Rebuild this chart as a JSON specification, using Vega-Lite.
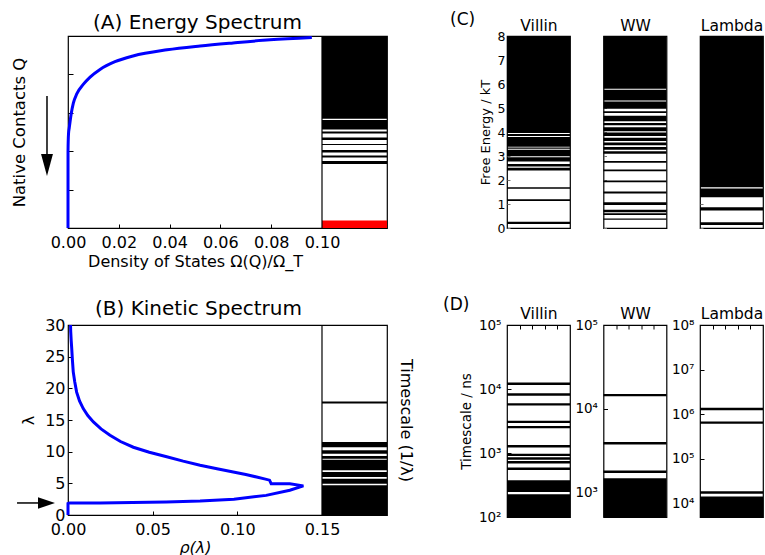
{
 "$schema": "https://vega.github.io/schema/vega-lite/v6.json",
 "padding": {"left": 10, "top": 10, "right": 0, "bottom": 0},
 "background": "white",
 "config": {
   "font": "DejaVu Sans",
   "view": {"stroke": "#000", "strokeWidth": 1.2},
   "axis": {"grid": false, "domain": false, "labelColor": "#000", "titleColor": "#000", "titleFontWeight": "normal", "tickColor": "#000", "labelFlush": false, "labelOverlap": false, "labelFont": "DejaVu Sans", "titleFont": "DejaVu Sans"},
   "title": {"fontWeight": "normal", "color": "#000", "font": "DejaVu Sans"}
 },
 "datasets": {
   "curveA": [{"i":0,"d":0,"q":0},{"i":1,"d":0.00001,"q":2.0},{"i":2,"d":0.0002,"q":2.45},{"i":3,"d":0.0005,"q":2.61},{"i":4,"d":0.0012,"q":2.95},{"i":5,"d":0.0021,"q":3.25},{"i":6,"d":0.0035,"q":3.5},{"i":7,"d":0.006,"q":3.74},{"i":8,"d":0.0087,"q":3.93},{"i":9,"d":0.0126,"q":4.13},{"i":10,"d":0.0185,"q":4.33},{"i":11,"d":0.0256,"q":4.48},{"i":12,"d":0.039,"q":4.64},{"i":13,"d":0.052,"q":4.74},{"i":14,"d":0.065,"q":4.82},{"i":15,"d":0.0795,"q":4.9},{"i":16,"d":0.096,"q":4.96}],
   "stripA": [{"lo":2.846,"hi":5,"kind":"level"},{"lo":2.565,"hi":2.8125,"kind":"level"},{"lo":2.461,"hi":2.513,"kind":"level"},{"lo":2.292,"hi":2.357,"kind":"level"},{"lo":2.161,"hi":2.1875,"kind":"level"},{"lo":1.966,"hi":2.031,"kind":"level"},{"lo":1.836,"hi":1.888,"kind":"level"},{"lo":1.667,"hi":1.745,"kind":"level"},{"lo":0,"hi":0.195,"kind":"ground"}],
   "arrowA": [{"x":-0.00827,"y":3.4375,"y2":1.875,"hy":1.64}],
   "curveB": [{"i":0,"rho":0.0015,"lam":30},{"i":1,"rho":0.0016,"lam":29},{"i":2,"rho":0.0019,"lam":27.5},{"i":3,"rho":0.0022,"lam":26.3},{"i":4,"rho":0.0026,"lam":24.5},{"i":5,"rho":0.0031,"lam":22.6},{"i":6,"rho":0.004,"lam":21},{"i":7,"rho":0.0051,"lam":19.4},{"i":8,"rho":0.0068,"lam":18},{"i":9,"rho":0.009,"lam":16.8},{"i":10,"rho":0.0117,"lam":15.7},{"i":11,"rho":0.015,"lam":14.7},{"i":12,"rho":0.0195,"lam":13.6},{"i":13,"rho":0.0248,"lam":12.6},{"i":14,"rho":0.031,"lam":11.6},{"i":15,"rho":0.0386,"lam":10.7},{"i":16,"rho":0.048,"lam":9.9},{"i":17,"rho":0.0583,"lam":9.2},{"i":18,"rho":0.068,"lam":8.5},{"i":19,"rho":0.078,"lam":7.85},{"i":20,"rho":0.088,"lam":7.3},{"i":21,"rho":0.0976,"lam":6.8},{"i":22,"rho":0.105,"lam":6.4},{"i":23,"rho":0.1114,"lam":6.0},{"i":24,"rho":0.116,"lam":5.7},{"i":25,"rho":0.119,"lam":5.5},{"i":26,"rho":0.12,"lam":4.95},{"i":27,"rho":0.131,"lam":4.95},{"i":28,"rho":0.139,"lam":4.6},{"i":29,"rho":0.131,"lam":3.9},{"i":30,"rho":0.117,"lam":3.1},{"i":31,"rho":0.098,"lam":2.5},{"i":32,"rho":0.078,"lam":2.2},{"i":33,"rho":0.058,"lam":2.05},{"i":34,"rho":0.038,"lam":1.97},{"i":35,"rho":0.019,"lam":1.9},{"i":36,"rho":0.001,"lam":1.9},{"i":37,"rho":0.0,"lam":1.8},{"i":38,"rho":0.0,"lam":0.0}],
   "stripB": [{"lo":17.61,"hi":17.92},{"lo":10.69,"hi":11.53},{"lo":9.68,"hi":10.22},{"lo":8.87,"hi":9.32},{"lo":7.06,"hi":8.72},{"lo":6.0,"hi":6.79},{"lo":4.94,"hi":5.73},{"lo":0,"hi":4.69}],
   "arrowB": [{"x":-0.0301,"x2":-0.01654,"y":1.9,"hx":-0.0127}],
   "cVillin": [{"lo":3.96,"hi":8},{"lo":3.83,"hi":3.92},{"lo":3.39,"hi":3.79},{"lo":3.30,"hi":3.35},{"lo":2.99,"hi":3.26},{"lo":2.77,"hi":2.95},{"lo":2.56,"hi":2.67},{"lo":2.40,"hi":2.51},{"lo":1.64,"hi":1.70},{"lo":1.12,"hi":1.20},{"lo":0.17,"hi":0.26}],
   "cWW": [{"lo":5.80,"hi":8},{"lo":5.31,"hi":5.76},{"lo":4.97,"hi":5.27},{"lo":4.79,"hi":4.86},{"lo":4.45,"hi":4.68},{"lo":4.28,"hi":4.38},{"lo":4.03,"hi":4.20},{"lo":3.83,"hi":3.98},{"lo":3.63,"hi":3.76},{"lo":3.45,"hi":3.56},{"lo":3.26,"hi":3.38},{"lo":3.09,"hi":3.20},{"lo":2.72,"hi":2.79},{"lo":2.36,"hi":2.44},{"lo":1.91,"hi":1.98},{"lo":1.44,"hi":1.52},{"lo":0.96,"hi":1.07},{"lo":0.66,"hi":0.76},{"lo":0.54,"hi":0.61},{"lo":0.34,"hi":0.40}],
   "cLambda": [{"lo":1.70,"hi":8},{"lo":1.28,"hi":1.65},{"lo":0.73,"hi":0.86},{"lo":0.13,"hi":0.24}],
   "dVillin": [{"lo":11540,"hi":12580},{"lo":7870,"hi":8580},{"lo":5500,"hi":5990},{"lo":2940,"hi":3205},{"lo":2430,"hi":2645},{"lo":1223,"hi":1333},{"lo":894,"hi":974},{"lo":785,"hi":856},{"lo":688,"hi":750},{"lo":544,"hi":593},{"lo":246,"hi":375},{"lo":100,"hi":226}],
   "dWW": [{"lo":14030,"hi":14990},{"lo":3725,"hi":3980},{"lo":1703,"hi":1819},{"lo":506,"hi":1470}],
   "dLambda": [{"lo":1231000,"hi":1394000},{"lo":611000,"hi":692000},{"lo":16730,"hi":18940},{"lo":5012,"hi":14500}]
 },
 "columns": 5,
 "spacing": {"row": 97, "column": 33.5},
 "bounds": "flush",
 "concat": [
  {
   "width": 319, "height": 192,
   "title": {"text": "(A) Energy Spectrum", "fontSize": 20, "anchor": "start", "frame": "group", "dx": 25, "offset": -1},
   "resolve": {"axis": {"x": "independent", "y": "independent"}},
   "layer": [
    {"data": {"name": "stripA"}, "mark": {"type": "rect"},
     "encoding": {
       "x": {"datum": 0.1, "type": "quantitative", "axis": null},
       "x2": {"datum": 0.12559},
       "y": {"field": "lo", "type": "quantitative", "axis": null},
       "y2": {"field": "hi"},
       "color": {"field": "kind", "type": "nominal", "scale": {"domain": ["level", "ground"], "range": ["#000000", "#ff0000"]}, "legend": null}}},
    {"data": {"values": [{}]}, "mark": {"type": "rule", "color": "#000", "strokeWidth": 1.2},
     "encoding": {"x": {"datum": 0.1, "type": "quantitative", "axis": null}}},
    {"data": {"name": "curveA"}, "mark": {"type": "line", "color": "#0000ff", "strokeWidth": 3, "interpolate": "monotone"},
     "encoding": {
       "x": {"field": "d", "type": "quantitative", "scale": {"domain": [0, 0.12559], "nice": false, "zero": false},
             "axis": {"values": [0, 0.02, 0.04, 0.06, 0.08, 0.1], "format": ".2f", "labelFontSize": 16, "tickSize": -4, "labelPadding": 10, "title": "Density of States Ω(Q)/Ω_T", "titleFontSize": 16, "titleX": 127, "titlePadding": 3}},
       "y": {"field": "q", "type": "quantitative", "scale": {"domain": [0, 5], "nice": false, "zero": false},
             "axis": {"values": [1, 2, 3, 4], "labels": false, "tickSize": -5, "title": "Native Contacts Q", "titleFontSize": 16.5, "titlePadding": 40}},
       "order": {"field": "i", "type": "quantitative"}}},
    {"data": {"name": "arrowA"}, "mark": {"type": "rule", "color": "#000", "strokeWidth": 1.5},
     "encoding": {"x": {"field": "x", "type": "quantitative", "axis": null}, "y": {"field": "y", "type": "quantitative", "axis": null}, "y2": {"field": "y2"}}},
    {"data": {"name": "arrowA"}, "mark": {"type": "point", "shape": "M-0.54,-1L0.54,-1L0,1Z", "size": 484, "filled": true, "color": "#000", "opacity": 1},
     "encoding": {"x": {"field": "x", "type": "quantitative", "axis": null}, "y": {"field": "hy", "type": "quantitative", "axis": null}}}
   ]
  },
  {"data": {"values": []}, "mark": "point", "width": 53, "height": 192, "view": {"stroke": null}},
  {
   "width": 63, "height": 192,
   "title": {"text": "(C)", "fontSize": 17, "anchor": "start", "frame": "group", "dx": -57, "dy": 15},
   "data": {"name": "cVillin"},
   "mark": {"type": "rect", "color": "#000"},
   "encoding": {
     "x": {"datum": 0, "type": "quantitative", "scale": {"domain": [0, 1], "nice": false}, "axis": {"orient": "top", "title": "Villin", "titleFontSize": 15.5, "labels": false, "ticks": false, "titlePadding": 3}},
     "x2": {"datum": 1},
     "y": {"field": "lo", "type": "quantitative", "scale": {"domain": [0, 8], "nice": false}, "axis": {"values": [0,1,2,3,4,5,6,7,8], "labelFontSize": 12.5, "tickSize": -3, "tickColor": "#777", "labelPadding": 5, "title": "Free Energy / kT", "titleFontSize": 13, "titlePadding": 5}},
     "y2": {"field": "hi"}
   }
  },
  {
   "width": 63, "height": 192,
   "data": {"name": "cWW"},
   "mark": {"type": "rect", "color": "#000"},
   "encoding": {
     "x": {"datum": 0, "type": "quantitative", "scale": {"domain": [0, 1], "nice": false}, "axis": {"orient": "top", "title": "WW", "titleFontSize": 15.5, "labels": false, "ticks": false, "titlePadding": 3}},
     "x2": {"datum": 1},
     "y": {"field": "lo", "type": "quantitative", "scale": {"domain": [0, 8], "nice": false}, "axis": {"values": [0,1,2,3,4,5,6,7,8], "labels": false, "tickSize": -3, "tickColor": "#777", "title": null}},
     "y2": {"field": "hi"}
   }
  },
  {
   "width": 63, "height": 192,
   "data": {"name": "cLambda"},
   "mark": {"type": "rect", "color": "#000"},
   "encoding": {
     "x": {"datum": 0, "type": "quantitative", "scale": {"domain": [0, 1], "nice": false}, "axis": {"orient": "top", "title": "Lambda", "titleFontSize": 15.5, "labels": false, "ticks": false, "titlePadding": 3}},
     "x2": {"datum": 1},
     "y": {"field": "lo", "type": "quantitative", "scale": {"domain": [0, 8], "nice": false}, "axis": {"values": [0,1,2,3,4,5,6,7,8], "labels": false, "tickSize": -3, "tickColor": "#777", "title": null}},
     "y2": {"field": "hi"}
   }
  },
  {
   "width": 319, "height": 190,
   "title": {"text": "(B) Kinetic Spectrum", "fontSize": 20, "anchor": "start", "frame": "group", "dx": 27, "offset": -2},
   "resolve": {"axis": {"x": "independent", "y": "independent"}},
   "layer": [
    {"data": {"name": "stripB"}, "mark": {"type": "rect", "color": "#000"},
     "encoding": {
       "x": {"datum": 0.15, "type": "quantitative", "axis": null},
       "x2": {"datum": 0.18839},
       "y": {"field": "lo", "type": "quantitative", "axis": {"orient": "right", "labels": false, "ticks": false, "title": "Timescale (1/λ)", "titleFontSize": 16, "titlePadding": 10}},
       "y2": {"field": "hi"}}},
    {"data": {"values": [{}]}, "mark": {"type": "rule", "color": "#000", "strokeWidth": 1.2},
     "encoding": {"x": {"datum": 0.15, "type": "quantitative", "axis": null}}},
    {"data": {"name": "curveB"}, "mark": {"type": "line", "color": "#0000ff", "strokeWidth": 3},
     "encoding": {
       "x": {"field": "rho", "type": "quantitative", "scale": {"domain": [0, 0.18839], "nice": false, "zero": false},
             "axis": {"values": [0, 0.05, 0.1, 0.15], "format": ".2f", "labelFontSize": 16, "tickSize": -4, "labelPadding": 10, "title": "ρ(λ)", "titleFontSize": 16, "titleFontStyle": "italic", "titleX": 127, "titlePadding": 2}},
       "y": {"field": "lam", "type": "quantitative", "scale": {"domain": [0, 30], "nice": false, "zero": false},
             "axis": {"orient": "left", "values": [0, 5, 10, 15, 20, 25, 30], "labelFontSize": 16, "tickSize": -4, "labelPadding": 7, "title": "λ", "titleFontSize": 16, "titlePadding": 8}},
       "order": {"field": "i", "type": "quantitative"}}},
    {"data": {"name": "arrowB"}, "mark": {"type": "rule", "color": "#000", "strokeWidth": 1.5},
     "encoding": {"x": {"field": "x", "type": "quantitative", "axis": null}, "x2": {"field": "x2"}, "y": {"field": "y", "type": "quantitative", "axis": null}}},
    {"data": {"name": "arrowB"}, "mark": {"type": "point", "shape": "M-1,-0.68L1,0L-1,0.68Z", "size": 289, "filled": true, "color": "#000", "opacity": 1},
     "encoding": {"x": {"field": "hx", "type": "quantitative", "axis": null}, "y": {"field": "y", "type": "quantitative", "axis": null}}}
   ]
  },
  {"data": {"values": []}, "mark": "point", "width": 53, "height": 190, "view": {"stroke": null}},
  {
   "width": 63, "height": 192,
   "title": {"text": "(D)", "fontSize": 17, "anchor": "start", "frame": "group", "dx": -64, "dy": 11},
   "data": {"name": "dVillin"},
   "mark": {"type": "rect", "color": "#000"},
   "encoding": {
     "x": {"datum": 0, "type": "quantitative", "scale": {"domain": [0, 1], "nice": false}, "axis": {"orient": "top", "title": "Villin", "titleFontSize": 15.5, "labels": false, "values": [0.2, 0.4, 0.6, 0.8], "tickSize": -4, "titlePadding": 3}},
     "x2": {"datum": 1},
     "y": {"field": "lo", "type": "quantitative", "scale": {"type": "log", "domain": [100, 100000], "nice": false}, "axis": {"values": [100, 1000, 10000, 100000], "labelExpr": "'10' + ['⁰','¹','²','³','⁴','⁵','⁶','⁷','⁸'][round(log(datum.value)/LN10)]", "labelFontSize": 13.5, "tickSize": -4, "labelPadding": 10, "title": "Timescale / ns", "titleFontSize": 13.5, "titlePadding": 5}},
     "y2": {"field": "hi"}
   }
  },
  {
   "width": 63, "height": 192,
   "data": {"name": "dWW"},
   "mark": {"type": "rect", "color": "#000"},
   "encoding": {
     "x": {"datum": 0, "type": "quantitative", "scale": {"domain": [0, 1], "nice": false}, "axis": {"orient": "top", "title": "WW", "titleFontSize": 15.5, "labels": false, "values": [0.2, 0.4, 0.6, 0.8], "tickSize": -4, "titlePadding": 3}},
     "x2": {"datum": 1},
     "y": {"field": "lo", "type": "quantitative", "scale": {"type": "log", "domain": [506, 100000], "nice": false}, "axis": {"values": [1000, 10000, 100000], "labelExpr": "'10' + ['⁰','¹','²','³','⁴','⁵','⁶','⁷','⁸'][round(log(datum.value)/LN10)]", "labelFontSize": 13.5, "tickSize": -4, "labelPadding": 10, "title": null}},
     "y2": {"field": "hi"}
   }
  },
  {
   "width": 63, "height": 192,
   "data": {"name": "dLambda"},
   "mark": {"type": "rect", "color": "#000"},
   "encoding": {
     "x": {"datum": 0, "type": "quantitative", "scale": {"domain": [0, 1], "nice": false}, "axis": {"orient": "top", "title": "Lambda", "titleFontSize": 15.5, "labels": false, "values": [0.2, 0.4, 0.6, 0.8], "tickSize": -4, "titlePadding": 3}},
     "x2": {"datum": 1},
     "y": {"field": "lo", "type": "quantitative", "scale": {"type": "log", "domain": [5012, 100000000], "nice": false}, "axis": {"values": [10000, 100000, 1000000, 10000000, 100000000], "labelExpr": "'10' + ['⁰','¹','²','³','⁴','⁵','⁶','⁷','⁸'][round(log(datum.value)/LN10)]", "labelFontSize": 13.5, "tickSize": -4, "labelPadding": 10, "title": null}},
     "y2": {"field": "hi"}
   }
  }
 ]
}
